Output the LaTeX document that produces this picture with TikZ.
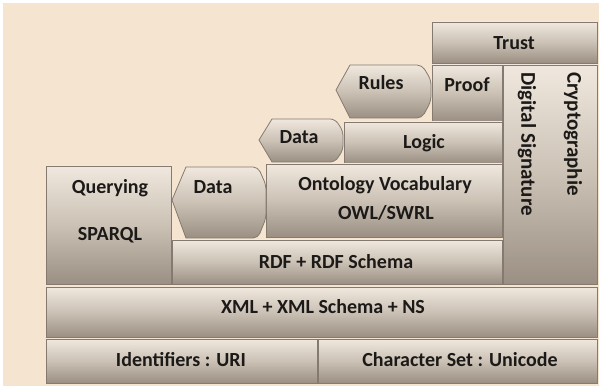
\documentclass[tikz,border=0pt]{standalone}
\usepackage{fontspec}
\setmainfont{Carlito}
\definecolor{bgbeige}{HTML}{F4E4D0}
\definecolor{boxtop}{HTML}{F0E8DE}
\definecolor{boxmid}{HTML}{CBC1B5}
\definecolor{boxbot}{HTML}{9B8F83}
\definecolor{boxedge}{HTML}{857A70}
\definecolor{txt}{HTML}{1C1A18}
\tikzset{
  layer/.style={draw=boxedge, line width=0.8pt, top color=boxtop, bottom color=boxbot, middle color=boxmid},
  lbl/.style={font=\fontsize{20}{22}\selectfont\bfseries, text=txt, inner sep=0pt},
  vlbl/.style={font=\fontsize{21}{23}\selectfont\bfseries, text=txt, inner sep=0pt, rotate=-90},
}
\begin{document}
\begin{tikzpicture}[x=1pt,y=-1pt]
\useasboundingbox (0,0) rectangle (599,387);
\fill[white] (0,0) rectangle (599,387);
\fill[bgbeige] (3,3) rectangle (599,386);
% rectangular layers
\path[layer] (432,22) rectangle (597,63);
\path[layer] (432,65) rectangle (502,121);
\path[layer] (503,65) rectangle (597,284);
\path[layer] (344,122) rectangle (502,163);
\path[layer] (266,164) rectangle (502,237);
\path[layer] (46,166) rectangle (171,284);
\path[layer] (172,240) rectangle (502,284);
\path[layer] (46,287) rectangle (597,337);
\path[layer] (46,339) rectangle (317,383);
\path[layer] (318,339) rectangle (597,383);
% hexagon shapes
\path[layer] (172,200) -- (186,167) [rounded corners=5pt] -- (258,167) -- (266,185) -- (266,218) -- (258,238) [sharp corners] -- (186,238) -- cycle;
\path[layer] (259,140) -- (272,119) [rounded corners=5pt] -- (335,119) -- (343,131) -- (343,150) -- (335,162) [sharp corners] -- (272,162) -- cycle;
\path[layer] (336,90) -- (350,65) [rounded corners=5pt] -- (422,65) -- (431,80) -- (431,101) -- (422,118) [sharp corners] -- (350,118) -- cycle;
% labels
\node[lbl] (ttrust) at (514,43) {Trust};
\node[lbl] (tproof) at (467,85) {Proof};
\node[lbl] (trules) at (381,83) {Rules};
\node[lbl] (tdata1) at (299,137) {Data};
\node[lbl] (tlogic) at (424,143) {Logic};
\node[lbl] (tonto) at (385,185) {Ontology Vocabulary};
\node[lbl] (towl) at (386,213) {OWL/SWRL};
\node[lbl] (tdata2) at (213,187) {Data};
\node[lbl] (tquery) at (110,188) {Querying};
\node[lbl] (tsparql) at (110,235) {SPARQL};
\node[lbl] (trdf) at (336,262) {RDF + RDF Schema};
\node[vlbl, anchor=west] (tsig) at (527,72) {Digital Signature};
\node[vlbl, anchor=west] (tcrypt) at (573,72) {Cryptographie};
\node[lbl] (txml) at (323,307) {XML + XML Schema + NS};
\node[lbl] (tident) at (181,360) {Identifiers : URI};
\node[lbl] (tchar) at (460,360) {Character Set : Unicode};
\end{tikzpicture}
\end{document}
